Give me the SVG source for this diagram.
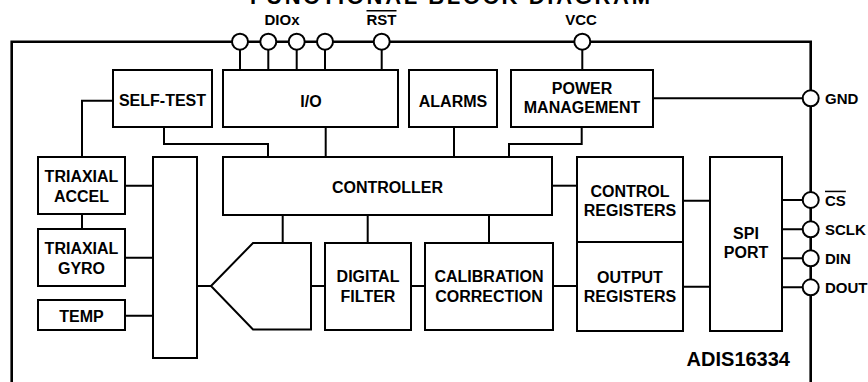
<svg xmlns="http://www.w3.org/2000/svg" width="868" height="382" viewBox="0 0 868 382">
<style>
.box{fill:#fff;stroke:#000;stroke-width:2}
.ln{fill:none;stroke:#000;stroke-width:2}
.frame{fill:none;stroke:#000;stroke-width:2.6}
.pin{fill:#fff;stroke:#000;stroke-width:2}
text{font-family:"Liberation Sans",Arial,Helvetica,sans-serif;font-weight:bold;fill:#000}
.t{font-size:16px;text-anchor:middle}
.p{font-size:15px}
.ov{text-decoration:overline}
</style>
<rect width="868" height="382" fill="#fff"/>
<text x="450" y="4" font-size="22" text-anchor="middle" textLength="400" lengthAdjust="spacing">FUNCTIONAL BLOCK DIAGRAM</text>
<path id="frame" class="frame" d="M11.7,395 V41.7 H810.7 V395"/>
<g id="connectors" class="ln">
<path d="M240,49.7 V70 M268.3,49.7 V70 M296.7,49.7 V70 M325,49.7 V70 M381.7,49.7 V70 M582.3,49.7 V70"/>
<path d="M113,100.7 H82 V157"/>
<path d="M82,214 V229"/>
<path d="M164,127 V144 H268 V157"/>
<path d="M325.7,127 V157"/>
<path d="M454,127 V157"/>
<path d="M581.7,127 V144 H509 V157"/>
<path d="M653,98.3 H803"/>
<path d="M125,185.7 H153 M125,257.7 H153 M125,315.7 H153"/>
<path d="M197,286 H211"/>
<path d="M282.7,215 V243 M367.7,215 V243 M489,215 V243"/>
<path d="M311,286 H325 M411,286 H425 M553,286 H577"/>
<path d="M552,185.7 H577"/>
<path d="M683,200.7 H710 M683,286.7 H710"/>
<path d="M782,200 H803 M782,229.3 H803 M782,258.3 H803 M782,287.3 H803"/>
</g>
<g id="selftest"><rect class="box" x="113" y="70" width="99" height="57"/><text class="t" x="162.5" y="106">SELF-TEST</text></g>
<g id="io"><rect class="box" x="223" y="70" width="175" height="57"/><text class="t" x="311" y="106.5">I/O</text></g>
<g id="alarms"><rect class="box" x="409" y="70" width="88" height="57"/><text class="t" x="453" y="106.5">ALARMS</text></g>
<g id="power"><rect class="box" x="511" y="70" width="142" height="57"/><text class="t" x="582" y="94.3">POWER</text><text class="t" x="582" y="113.3">MANAGEMENT</text></g>
<g id="accel"><rect class="box" x="38" y="157" width="87" height="57"/><text class="t" x="81.5" y="182.3">TRIAXIAL</text><text class="t" x="81.5" y="201.7">ACCEL</text></g>
<g id="gyro"><rect class="box" x="38" y="229" width="87" height="57"/><text class="t" x="81.5" y="254">TRIAXIAL</text><text class="t" x="81.5" y="274">GYRO</text></g>
<g id="temp"><rect class="box" x="38" y="300" width="87" height="30"/><text class="t" x="81.5" y="321.7">TEMP</text></g>
<g id="mux"><rect class="box" x="153" y="157" width="44" height="201"/></g>
<g id="controller"><rect class="box" x="223" y="157" width="329" height="58"/><text class="t" x="387.5" y="192.7">CONTROLLER</text></g>
<g id="adc"><polygon class="box" points="211,286 253,243 311,243 311,329.5 253,329.5"/></g>
<g id="filter"><rect class="box" x="325" y="243" width="86" height="87"/><text class="t" x="368" y="282.3">DIGITAL</text><text class="t" x="368" y="301.7">FILTER</text></g>
<g id="calibration"><rect class="box" x="425" y="243" width="128" height="87"/><text class="t" x="489" y="282.3">CALIBRATION</text><text class="t" x="489" y="301.7">CORRECTION</text></g>
<g id="ctrlregs"><rect class="box" x="577" y="157" width="106" height="85"/><text class="t" x="630" y="197">CONTROL</text><text class="t" x="630" y="215.5">REGISTERS</text></g>
<g id="outregs"><rect class="box" x="577" y="242" width="106" height="89"/><text class="t" x="630" y="283.3">OUTPUT</text><text class="t" x="630" y="301.7">REGISTERS</text></g>
<g id="spi"><rect class="box" x="710" y="157" width="72" height="174"/><text class="t" x="746" y="239">SPI</text><text class="t" x="746" y="258">PORT</text></g>
<g id="pins">
<circle class="pin" cx="240" cy="41.7" r="8"/>
<circle class="pin" cx="268.3" cy="41.7" r="8"/>
<circle class="pin" cx="296.7" cy="41.7" r="8"/>
<circle class="pin" cx="325" cy="41.7" r="8"/>
<circle class="pin" cx="381.7" cy="41.7" r="8"/>
<circle class="pin" cx="582.3" cy="41.7" r="8"/>
<circle class="pin" cx="810.7" cy="98.3" r="8"/>
<circle class="pin" cx="810.7" cy="200" r="8"/>
<circle class="pin" cx="810.7" cy="229.3" r="8"/>
<circle class="pin" cx="810.7" cy="258.3" r="8"/>
<circle class="pin" cx="810.7" cy="287.3" r="8"/>
<text class="p" x="282" y="25" text-anchor="middle">DIOx</text>
<text class="p ov" x="381.5" y="25" text-anchor="middle">RST</text>
<text class="p" x="581" y="25" text-anchor="middle">VCC</text>
<text class="p" x="825" y="104">GND</text>
<text class="p ov" x="825" y="205.7">CS</text>
<text class="p" x="825" y="234.5">SCLK</text>
<text class="p" x="825" y="263.5">DIN</text>
<text class="p" x="825" y="292.5">DOUT</text>
</g>
<text x="790" y="366" font-size="20" text-anchor="end">ADIS16334</text>
</svg>
